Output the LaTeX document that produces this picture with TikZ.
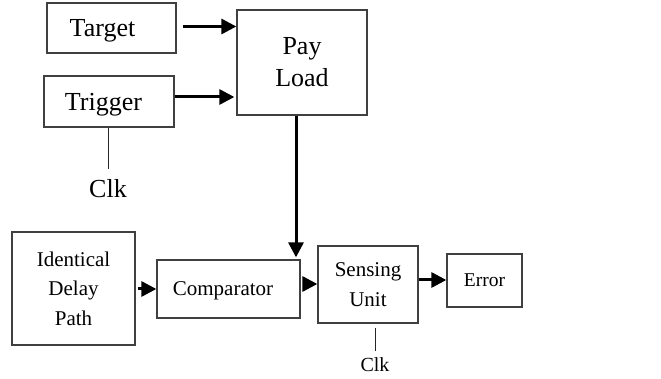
\documentclass[tikz,border=0pt]{standalone}
\usepackage{fontspec}
\setmainfont{Liberation Serif}
\usetikzlibrary{arrows.meta}
\begin{document}
\begin{tikzpicture}[x=1pt,y=-1pt,
  box/.style={draw=black!75, line width=1.3pt, rectangle, inner sep=0pt,
    align=center, font=\fontsize{21}{29.5}\selectfont},
  big/.style={font=\fontsize{26}{32}\selectfont},
  flat/.style={text depth=0pt},
  lbl/.style={inner xsep=0pt, font=\fontsize{26}{32}\selectfont},
  arr/.style={line width=3pt, -{Triangle[length=15pt,width=15pt]}},
  clkline/.style={line width=1pt, black!85}]
\useasboundingbox (0,0) rectangle (661,379);
% blocks
\node[box, big, flat, minimum width=129pt, minimum height=50pt] (target) at (111.5,28) {Target\hspace*{18pt}};
\node[box, big, minimum width=130pt, minimum height=105pt] (payload) at (302,62.5) {Pay\\Load};
\node[box, big, flat, minimum width=130pt, minimum height=51pt] (trigger) at (109,101.5) {Trigger\hspace*{11pt}};
\node[box, minimum width=123pt, minimum height=113pt] (delay) at (73.5,288.5) {Identical\\Delay\\Path};
\node[box, flat, minimum width=143pt, minimum height=58pt] (comp) at (228.5,289) {Comparator\hspace*{11pt}};
\node[box, minimum width=100pt, minimum height=77pt] (sense) at (368,284.5) {Sensing\\Unit};
\node[box, font=\fontsize{19.5}{24}\selectfont, minimum width=75pt, minimum height=53pt] (error) at (484.5,280.5) {Error};
% clock labels
\node[lbl, anchor=north, inner ysep=10pt] (clka) at (108,169) {Clk};
\node[lbl, font=\fontsize{20}{24}\selectfont, anchor=north, inner ysep=6pt] (clkb) at (375,351) {Clk};
% signal flow
\draw[arr] ([xshift=6pt]target.east |- 0,26.5) -- (payload.west |- 0,26.5);
\draw[arr] (trigger.east |- 0,97) -- ([xshift=-2pt]payload.west |- 0,97);
\draw[arr] (296,0 |- payload.south) -- ([yshift=2pt]296,0 |- comp.north);
\draw[arr] ([xshift=2pt]delay.east |- 0,289) -- (comp.west |- 0,289);
\draw[arr] ([xshift=2pt]comp.east |- 0,284) -- (sense.west |- 0,284);
\draw[arr] (sense.east |- 0,280) -- (error.west |- 0,280);
% clock inputs
\draw[clkline] (trigger.south -| clka.north) -- (clka.north);
\draw[clkline] ([yshift=-4pt]sense.south -| clkb.north) -- (clkb.north);
\end{tikzpicture}
\end{document}
